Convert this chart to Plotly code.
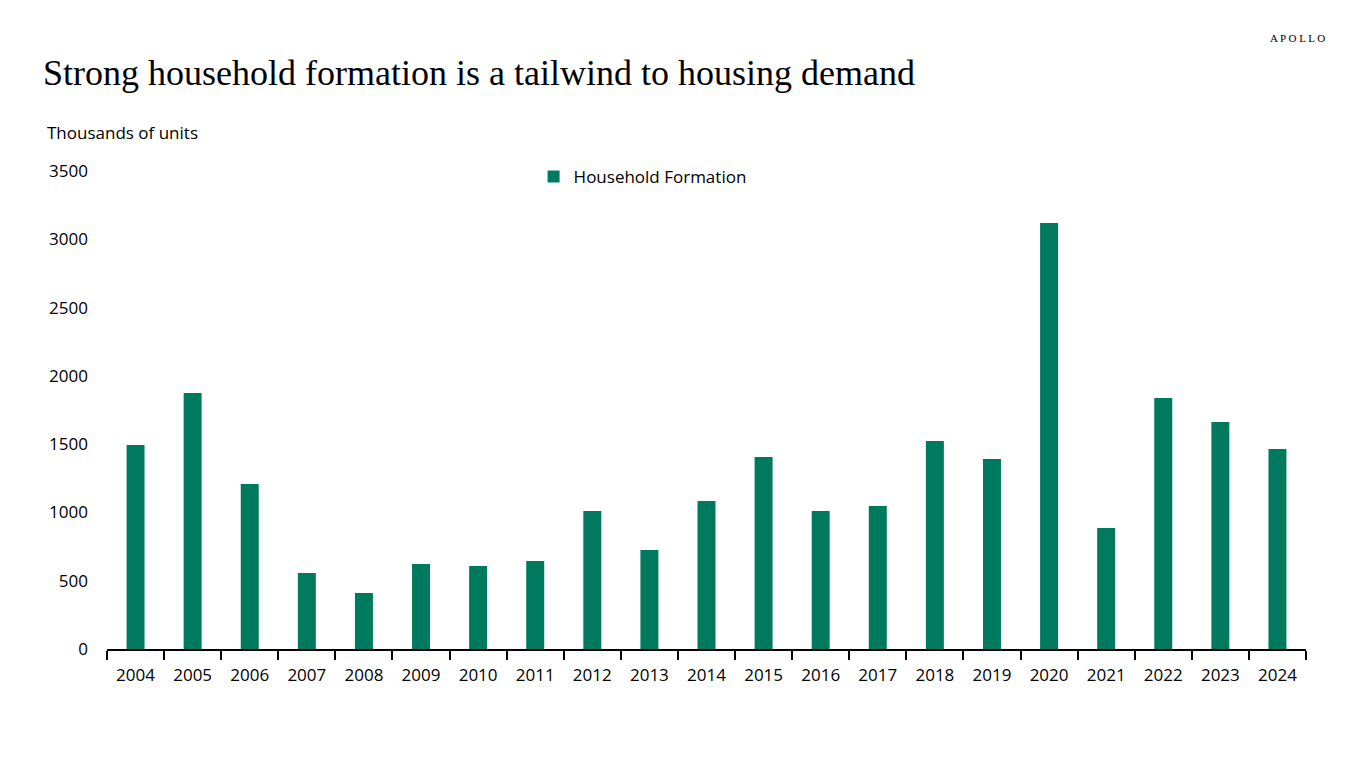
import plotly.graph_objects as go

years = [str(y) for y in range(2004, 2025)]
household_formation = [1494, 1874, 1208, 556, 410, 622, 608, 644, 1010, 725,
                       1084, 1406, 1010, 1047, 1523, 1391, 3119, 886, 1838, 1662, 1464]
y_ticks = [0, 500, 1000, 1500, 2000, 2500, 3000, 3500]

GREEN = "#007A5E"
SANS = "Open Sans, Noto Sans, sans-serif"

# page has an 8px body margin; figure sized to fill the 1366x768 window
W, H = 1350, 752
OFF = 8
L, R, T, B = 107 - OFF, W - (1306 - OFF), 171 - OFF, H - (649 - OFF)
plot_w = W - L - R
plot_h = H - T - B


def px_x(x):
    return (x - OFF - L) / plot_w


def px_y(y):
    return (H - B - (y - OFF)) / plot_h


fig = go.Figure()
fig.add_trace(go.Bar(x=years, y=household_formation, name="Household Formation",
                     marker=dict(color=GREEN, line=dict(width=0))))

fig.update_layout(
    width=W, height=H,
    paper_bgcolor="white", plot_bgcolor="white",
    margin=dict(l=L, r=R, t=T, b=B),
    bargap=0.685,
    showlegend=True,
    legend=dict(orientation="h", x=0.4467, xanchor="center", y=px_y(177), yanchor="middle",
                font=dict(family=SANS, size=17, color="black"), bgcolor="rgba(0,0,0,0)"),
    font=dict(family=SANS, size=17, color="black"),
)
fig.update_xaxes(type="category", showline=True, linecolor="black", linewidth=1.5,
                 ticks="outside", tickson="boundaries", ticklen=9, tickwidth=1.5,
                 tickcolor="black", showgrid=False, ticklabelstandoff=10,
                 tickfont=dict(size=17, family=SANS))
fig.update_yaxes(range=[0, 3500], tickvals=y_ticks, showgrid=False, zeroline=False,
                 showline=False, ticks="", ticklabelstandoff=18,
                 tickfont=dict(size=17, family=SANS))

fig.add_annotation(text="Strong household formation is a tailwind to housing demand",
                   xref="paper", yref="paper", x=px_x(41), y=px_y(73),
                   xanchor="left", yanchor="middle", showarrow=False,
                   font=dict(family="Liberation Serif, serif", size=36, color="black"))
fig.add_annotation(text="Thousands of units", xref="paper", yref="paper",
                   x=px_x(45), y=px_y(133), xanchor="left", yanchor="middle", showarrow=False,
                   font=dict(family=SANS, size=17, color="black"))
fig.add_annotation(text="A P O L L O", xref="paper", yref="paper",
                   x=px_x(1268), y=px_y(38), xanchor="left", yanchor="middle", showarrow=False,
                   font=dict(family="Liberation Serif, serif", size=11, color="black"))

fig.write_html("out.html")
